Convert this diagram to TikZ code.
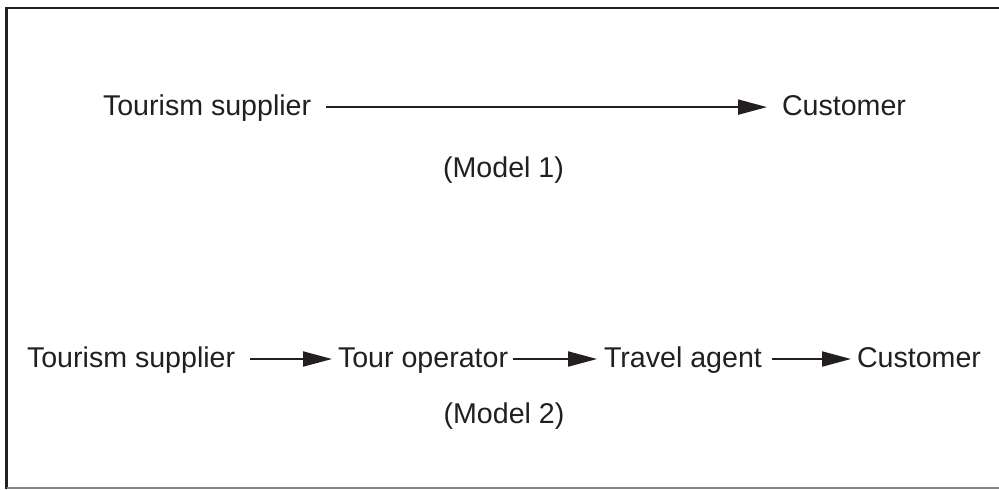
\documentclass[tikz,border=0pt]{standalone}
\usepackage{fontspec}
\setmainfont{Liberation Sans}
\usetikzlibrary{arrows.meta}
\definecolor{ink}{HTML}{231F20}
\tikzset{
  lbl/.style={inner sep=0pt, outer sep=0pt, text=ink, font=\fontsize{14.3pt}{17pt}\selectfont},
  conn/.style={draw=ink, line width=1pt, -{Triangle[length=14.5pt,width=7.5pt]}},
  frame/.style={draw=ink, line width=1.25pt, line join=miter}
}
\begin{document}
\begin{tikzpicture}[x=0.5pt,y=-0.5pt]
\useasboundingbox (0,0) rectangle (999,489);
% frame (cropped at the right)
\draw[frame] (1010,8) -- (6.5,8) -- (6.5,488.5);
\draw[draw=ink!55, line width=0.75pt] (6.5,488.2) -- (1010,488.2);
% Model 1
\node[lbl, anchor=base west] (ts1) at (103,115.5) {Tourism supplier};
\node[lbl, anchor=base west] (cu1) at (782,115.5) {Customer};
\node[lbl, anchor=base] (m1) at (503.5,177.5) {(Model 1)};
\draw[conn, shorten <=7.5pt, shorten >=7.5pt] ([yshift=4.2pt]ts1.base east) -- ([yshift=4.2pt]cu1.base west);
% Model 2
\node[lbl, anchor=base west] (ts2) at (27,367) {Tourism supplier};
\node[lbl, anchor=base west] (to) at (338,367) {Tour operator};
\node[lbl, anchor=base west] (ta) at (604,367) {Travel agent};
\node[lbl, anchor=base west] (cu2) at (857,367) {Customer};
\node[lbl, anchor=base] (m2) at (504,423) {(Model 2)};
\draw[conn, shorten <=7.5pt, shorten >=3pt] ([yshift=4pt]ts2.base east) -- ([yshift=4pt]to.base west);
\draw[conn, shorten <=2.5pt, shorten >=3.5pt] ([yshift=4pt]to.base east) -- ([yshift=4pt]ta.base west);
\draw[conn, shorten <=5pt, shorten >=3pt] ([yshift=4pt]ta.base east) -- ([yshift=4pt]cu2.base west);
\end{tikzpicture}
\end{document}
